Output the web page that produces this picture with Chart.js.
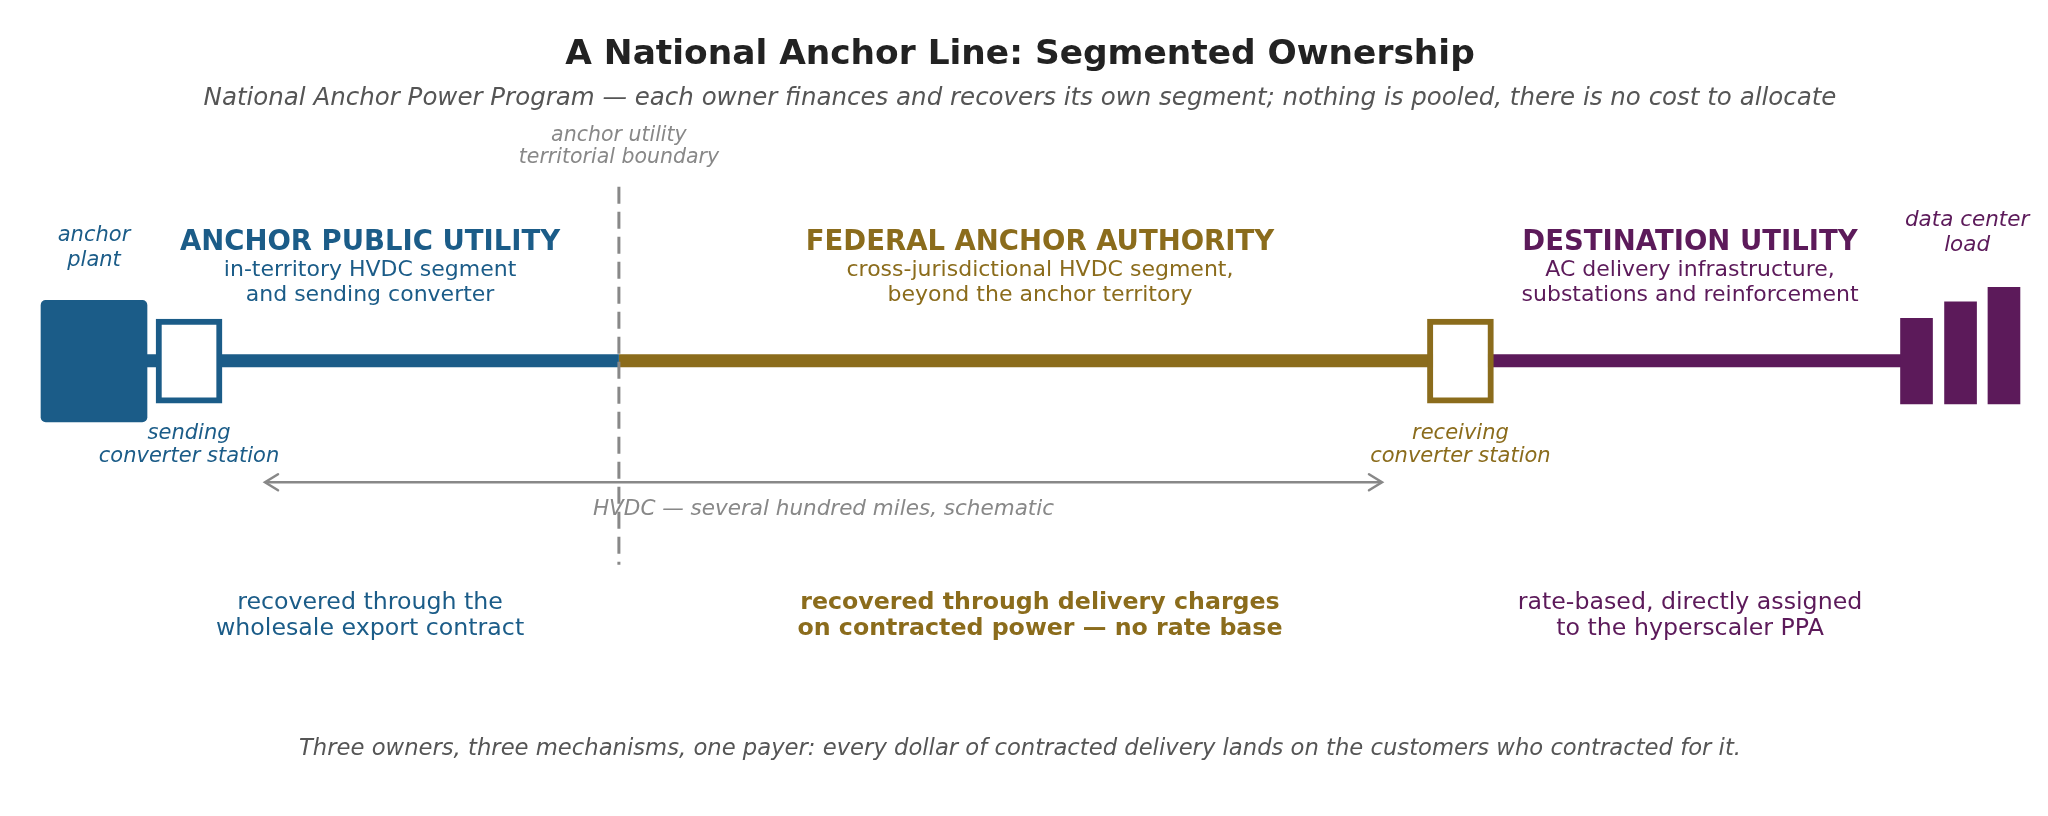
<!DOCTYPE html>
<html>
<head>
<meta charset="utf-8">
<title>A National Anchor Line: Segmented Ownership</title>
<script src="https://cdn.jsdelivr.net/npm/chart.js@4.4.1/dist/chart.umd.min.js"></script>
<style>
  html, body { margin: 0; padding: 0; background: #fff; }
  #wrap { width: 2048px; height: 816px; }
</style>
</head>
<body>
<div id="wrap"><canvas id="anchorChart" width="2048" height="816"></canvas></div>
<script>
// Schematic positions along the line: 0 = left edge, 100 = right edge.
// Levels: 0 = the line itself, up is positive.
var owners = ['ANCHOR PUBLIC UTILITY', 'FEDERAL ANCHOR AUTHORITY', 'DESTINATION UTILITY'];
var ownerScope = [
  ['in-territory HVDC segment', 'and sending converter'],
  ['cross-jurisdictional HVDC segment,', 'beyond the anchor territory'],
  ['AC delivery infrastructure,', 'substations and reinforcement']
];
var recovery = [
  ['recovered through the', 'wholesale export contract'],
  ['recovered through delivery charges', 'on contracted power \u2014 no rate base'],
  ['rate-based, directly assigned', 'to the hyperscaler PPA']
];
var ownerLabelAt = [18.07, 50.78, 82.52];

var segmentStart = [4.59, 30.22, 71.31];
var segmentEnd = [30.22, 71.31, 93.58];

var boundaryAt = 30.22;
var boundarySpan = [-25.0, 21.3];

var plantAt = 4.59;
var plantLevel = [-7.5, 7.4];

var converterAt = [9.23, 71.31];
var converterLevel = [-5.2, 5.1];
var converterNames = [['sending', 'converter station'], ['receiving', 'converter station']];

var loadAt = [93.58, 95.73, 97.85];
var loadTop = [5.2, 7.2, 9.0];
var loadBase = -5.3;
var loadLabelAt = 96.05;

var hvdcSpan = [12.94, 67.48];
var hvdcLevel = -14.9;

var colors = ['#1b5c88', '#8b6c1c', '#5c1a5a'];
var FONT = '"DejaVu Sans", Verdana, sans-serif';

function pt(x, y) { return { x: x, y: y }; }

var datasets = [];

// boundary (top-most)
datasets.push({
  type: 'line',
  data: [pt(boundaryAt, boundarySpan[1]), pt(boundaryAt, boundarySpan[0])],
  borderColor: '#888888',
  borderWidth: 3,
  borderDash: [17, 8],
  pointRadius: 0
});

// converter stations
converterAt.forEach(function(x, i) {
  datasets.push({
    type: 'bar',
    data: [{ x: x, y: converterLevel }],
    backgroundColor: '#ffffff',
    borderColor: colors[i === 0 ? 0 : 1],
    borderWidth: 6,
    borderSkipped: false,
    barThickness: 66,
    grouped: false
  });
});

// anchor plant
datasets.push({
  type: 'bar',
  data: [{ x: plantAt, y: plantLevel }],
  backgroundColor: colors[0],
  borderRadius: 5,
  borderSkipped: false,
  barThickness: 106,
  grouped: false
});

// data center load
datasets.push({
  type: 'bar',
  data: loadAt.map(function(x, i) { return { x: x, y: [loadBase, loadTop[i]] }; }),
  backgroundColor: colors[2],
  barThickness: 32,
  grouped: false
});

// HVDC span arrow shaft
datasets.push({
  type: 'line',
  data: [pt(hvdcSpan[0], hvdcLevel), pt(hvdcSpan[1], hvdcLevel)],
  borderColor: '#888888',
  borderWidth: 2.5,
  pointRadius: 0
});

// owner segments (bottom-most)
segmentStart.forEach(function(x0, i) {
  datasets.push({
    type: 'line',
    data: [pt(x0, 0), pt(segmentEnd[i], 0)],
    borderColor: colors[i],
    borderWidth: 13,
    borderCapStyle: 'butt',
    pointRadius: 0
  });
});

function textLines(ctx, lines, x, y, step, font, color) {
  ctx.font = font;
  ctx.fillStyle = color;
  ctx.textAlign = 'center';
  ctx.textBaseline = 'middle';
  lines.forEach(function(s, k) { ctx.fillText(s, x, y + k * step); });
}

var labelsPlugin = {
  id: 'labels',
  beforeDatasetsDraw: function(chart) {
    var ctx = chart.ctx;
    var xs = chart.scales.x;
    var cx = chart.width / 2 - 4;
    ctx.save();
    textLines(ctx, ['A National Anchor Line: Segmented Ownership'], cx, 55, 0, 'bold 34.4px ' + FONT, '#222222');
    textLines(ctx, ['National Anchor Power Program \u2014 each owner finances and recovers its own segment; nothing is pooled, there is no cost to allocate'],
      cx, 99, 0, 'italic 24.5px ' + FONT, '#555555');
    textLines(ctx, ['anchor utility', 'territorial boundary'], xs.getPixelForValue(boundaryAt), 136, 22, 'italic 20.5px ' + FONT, '#888888');

    owners.forEach(function(name, i) {
      var x = xs.getPixelForValue(ownerLabelAt[i]);
      textLines(ctx, [name], x, 243, 0, 'bold 27.5px ' + FONT, colors[i]);
      textLines(ctx, ownerScope[i], x, 270, 25, '22px ' + FONT, colors[i]);
      textLines(ctx, recovery[i], x, 603, 26, (i === 1 ? 'bold ' : '') + '23.7px ' + FONT, colors[i]);
    });

    textLines(ctx, ['anchor', 'plant'], xs.getPixelForValue(plantAt), 236, 25, 'italic 21px ' + FONT, colors[0]);
    converterAt.forEach(function(x, i) {
      textLines(ctx, converterNames[i], xs.getPixelForValue(x), 434, 23, 'italic 21px ' + FONT, colors[i === 0 ? 0 : 1]);
    });
    textLines(ctx, ['data center', 'load'], xs.getPixelForValue(loadLabelAt), 220, 25, 'italic 21.5px ' + FONT, colors[2]);

    textLines(ctx, ['HVDC \u2014 several hundred miles, schematic'], xs.getPixelForValue((hvdcSpan[0] + hvdcSpan[1]) / 2), 509, 0,
      'italic 21.5px ' + FONT, '#888888');
    textLines(ctx, ['Three owners, three mechanisms, one payer: every dollar of contracted delivery lands on the customers who contracted for it.'],
      cx, 749, 0, 'italic 22.7px ' + FONT, '#555555');
    ctx.restore();
  },
  afterDatasetsDraw: function(chart) {
    // open arrow heads on the HVDC span
    var ctx = chart.ctx;
    var xs = chart.scales.x, ys = chart.scales.y;
    var y = ys.getPixelForValue(hvdcLevel);
    ctx.save();
    ctx.strokeStyle = '#888888';
    ctx.lineWidth = 2.5;
    ctx.lineCap = 'round';
    ctx.lineJoin = 'miter';
    [[hvdcSpan[0], 1], [hvdcSpan[1], -1]].forEach(function(end) {
      var x = xs.getPixelForValue(end[0]);
      var d = end[1];
      ctx.beginPath();
      ctx.moveTo(x + d * 13, y - 8);
      ctx.lineTo(x, y);
      ctx.lineTo(x + d * 13, y + 8);
      ctx.stroke();
    });
    ctx.restore();
  }
};

var ctx = document.getElementById('anchorChart').getContext('2d');
new Chart(ctx, {
  type: 'line',
  data: { datasets: datasets },
  options: {
    responsive: false,
    devicePixelRatio: 1,
    animation: false,
    events: [],
    layout: { padding: 0 },
    plugins: { legend: { display: false }, tooltip: { enabled: false }, title: { display: false } },
    scales: {
      x: { type: 'linear', min: 0, max: 100, offset: false, display: false },
      y: { type: 'linear', min: -55.8, max: 44.2, display: false }
    }
  },
  plugins: [labelsPlugin]
});
</script>
</body>
</html>
